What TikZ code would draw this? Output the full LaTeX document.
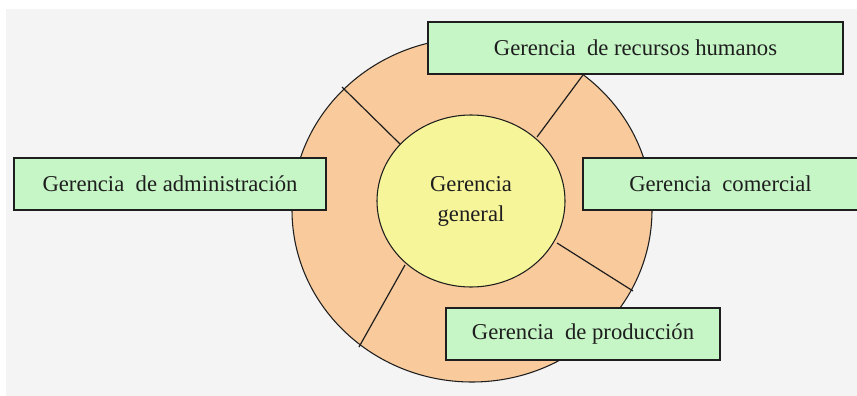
\documentclass[tikz,border=0pt]{standalone}
\usepackage{fontspec}
\setmainfont{Liberation Serif}
\usetikzlibrary{shapes.geometric}
\definecolor{bgc}{RGB}{244,244,244}
\definecolor{peach}{RGB}{248,202,156}
\definecolor{yel}{RGB}{247,245,153}
\definecolor{grn}{RGB}{198,245,198}
\definecolor{ink}{RGB}{30,30,30}
\tikzset{
  ring/.style={ellipse, draw=ink, line width=0.8pt, inner sep=0pt},
  divider/.style={draw=ink, line width=0.9pt},
  gbox/.style={rectangle, draw=ink, line width=1pt, fill=grn, inner sep=0pt,
    minimum height=39pt, text=ink, font=\fontsize{17}{22.5}\selectfont},
}
\begin{document}
\begin{tikzpicture}[x=0.75pt, y=-0.75pt]
\useasboundingbox (0,0) rectangle (857,396);
\fill[white] (0,0) rectangle (857,396);
\fill[bgc] (6,9) rectangle (857,396);
% rings
\node (outer) [ring, fill=peach, minimum width=270pt, minimum height=258pt] at (472,210) {};
\node (inner) [ring, fill=yel, minimum width=141pt, minimum height=129pt,
  align=center, text=ink, font=\fontsize{17}{22.5}\selectfont] at (471,201) {Gerencia\\general};
% divider end points
\coordinate (d1a) at (400,144); \coordinate (d1b) at (342,87);
\coordinate (d2a) at (537,137); \coordinate (d2b) at (583,75);
\coordinate (d3a) at (557,243); \coordinate (d3b) at (633,291);
\coordinate (d4a) at (405,265); \coordinate (d4b) at (359,347);
\draw[divider] (d1a) -- (d1b);
\draw[divider] (d2a) -- (d2b);
\draw[divider] (d3a) -- (d3b);
\draw[divider] (d4a) -- (d4b);
% boxes
\node (rh) [gbox, minimum width=311.25pt] at (635.5,48) {Gerencia\ \ de recursos humanos};
\node (adm) [gbox, minimum width=234pt] at (170,184) {Gerencia\ \ de administración};
\node (com) [gbox, minimum width=206.25pt] at (720.5,184) {Gerencia\ \ comercial};
\node (prod) [gbox, minimum width=205.5pt] at (583,334) {Gerencia\ \ de producción};
\end{tikzpicture}
\end{document}
